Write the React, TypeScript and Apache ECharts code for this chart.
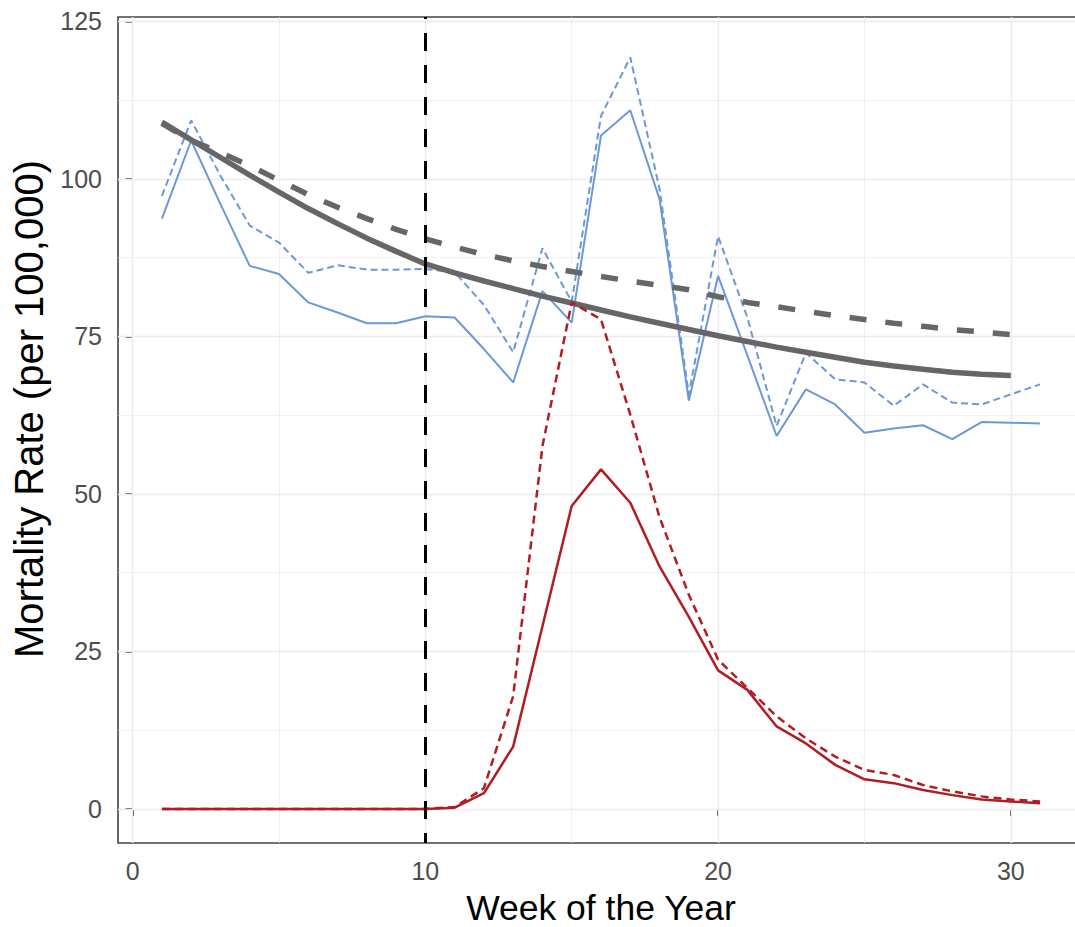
import { useEffect, useRef } from "react";
import * as echarts from "echarts";

// Week of the year
const weeks = [1, 2, 3, 4, 5, 6, 7, 8, 9, 10, 11, 12, 13, 14, 15, 16, 17, 18, 19, 20, 21, 22, 23, 24, 25, 26, 27, 28, 29, 30, 31];

// Blue solid
const blueSolid = [93.7, 106.1, 96.0, 86.2, 84.9, 80.4, 78.8, 77.1, 77.1, 78.2, 78.0, 73.0, 67.7, 82.2, 77.2, 106.9, 110.9, 96.8, 64.8, 84.6, 72.0, 59.2, 66.6, 64.2, 59.7, 60.4, 60.9, 58.7, 61.4, 61.3, 61.2];
// Blue dashed
const blueDashed = [97.3, 109.3, 100.5, 92.6, 89.9, 85.1, 86.3, 85.6, 85.6, 85.7, 85.2, 80.0, 72.5, 89.0, 80.5, 110.0, 119.3, 98.4, 65.8, 90.9, 78.0, 60.8, 72.4, 68.2, 67.7, 64.0, 67.4, 64.5, 64.2, 65.8, 67.4];
// Red solid
const redSolid = [0, 0, 0, 0, 0, 0, 0, 0, 0, 0, 0.2, 2.5, 9.9, 29.0, 48.1, 53.9, 48.6, 38.5, 30.5, 22.0, 18.9, 13.1, 10.4, 7.0, 4.7, 4.1, 3.0, 2.2, 1.5, 1.2, 0.9];
// Red dashed
const redDashed = [0, 0, 0, 0, 0, 0, 0, 0, 0, 0, 0.3, 3.3, 17.9, 57.6, 80.4, 77.7, 62.6, 46.3, 34.0, 23.7, 19.2, 14.7, 11.2, 8.3, 6.2, 5.4, 3.8, 2.8, 2.0, 1.5, 1.2];
// Gray solid trend (weeks 1..30)
const graySolid = [109.0, 106.2, 103.4, 100.6, 97.9, 95.3, 92.9, 90.6, 88.5, 86.5, 85.1, 83.8, 82.6, 81.4, 80.3, 79.2, 78.1, 77.1, 76.1, 75.1, 74.2, 73.3, 72.5, 71.7, 70.9, 70.3, 69.8, 69.3, 69.0, 68.8];
// Gray dashed trend (weeks 1..30)
const grayDashed = [108.8, 106.1, 104.2, 102.1, 99.8, 97.5, 95.5, 93.7, 92.0, 90.5, 89.2, 88.0, 87.0, 86.1, 85.3, 84.5, 83.8, 83.1, 82.4, 81.3, 80.4, 79.7, 79.0, 78.3, 77.7, 77.1, 76.6, 76.1, 75.7, 75.3];

const xTicks = [0, 10, 20, 30];
const xMinorBreaks = [5, 15, 25];
const yTicks = [0, 25, 50, 75, 100, 125];
const yMinorBreaks = [12.5, 37.5, 62.5, 87.5, 112.5];
const interventionWeek = 10;

const xTitle = "Week of the Year";
const yTitle = "Mortality Rate (per 100,000)";

const FONT = "'Liberation Sans', Arial, Helvetica, sans-serif";
const BLUE = "#6D98D8";
const RED = "#B01E23";
const GRAY = "#666666";

const pairs = (vals: number[]) => vals.map((v, i) => [weeks[i], v]);

export default function App() {
  const ref = useRef<HTMLDivElement>(null);
  useEffect(() => {
    if (!ref.current) return;
    const chart = echarts.init(ref.current, undefined, { renderer: "svg" });
    const gridLines: any[] = [
      ...xTicks.map((v) => ({ xAxis: v, lineStyle: { width: 1.4 } })),
      ...xMinorBreaks.map((v) => ({ xAxis: v, lineStyle: { width: 0.7 } })),
      ...yTicks.map((v) => ({ yAxis: v, lineStyle: { width: 1.4 } })),
      ...yMinorBreaks.map((v) => ({ yAxis: v, lineStyle: { width: 0.7 } })),
    ];
    chart.setOption({
      animation: false,
      backgroundColor: "#ffffff",
      grid: {
        left: 118,
        top: 17,
        right: 0,
        bottom: 84,
        show: true,
        borderColor: "#444444",
        borderWidth: 1.6,
        backgroundColor: "transparent",
        containLabel: false,
        outerBoundsMode: "none",
      },
      xAxis: {
        type: "value",
        min: -0.5,
        max: 32.5,
        name: xTitle,
        nameLocation: "middle",
        nameGap: 47,
        nameTextStyle: { fontFamily: FONT, fontSize: 35.5, color: "#000000" },
        axisLine: { show: false },
        splitLine: { show: false },
        axisTick: { show: true, length: 7, customValues: xTicks, lineStyle: { color: "#333333", width: 1.6 } },
        axisLabel: { customValues: xTicks, margin: 15, fontFamily: FONT, fontSize: 25, color: "#4D4D4D" },
      },
      yAxis: {
        type: "value",
        min: -5.4,
        max: 125.7,
        name: yTitle,
        nameLocation: "middle",
        nameGap: 69,
        nameTextStyle: { fontFamily: FONT, fontSize: 40, color: "#000000", padding: [0, 0, 0, 42] },
        axisLine: { show: false },
        splitLine: { show: false },
        axisTick: { show: true, length: 7, customValues: yTicks, lineStyle: { color: "#333333", width: 1.6 } },
        axisLabel: { customValues: yTicks, margin: 16, fontFamily: FONT, fontSize: 25, color: "#4D4D4D" },
      },
      series: [
        {
          type: "line",
          data: [],
          z: 1,
          silent: true,
          markLine: {
            silent: true,
            z: 1,
            symbol: "none",
            label: { show: false },
            lineStyle: { color: "#EBEBEB", type: "solid" },
            data: gridLines,
          },
        },
        {
          type: "line",
          data: pairs(blueDashed),
          showSymbol: false,
          symbol: "none",
          z: 2,
          lineStyle: { color: BLUE, width: 2, type: [7, 4] },
        },
        {
          type: "line",
          data: pairs(blueSolid),
          showSymbol: false,
          symbol: "none",
          z: 2,
          lineStyle: { color: BLUE, width: 2 },
        },
        {
          type: "line",
          data: pairs(graySolid),
          showSymbol: false,
          symbol: "none",
          z: 3,
          lineStyle: { color: GRAY, width: 5.5 },
        },
        {
          type: "line",
          data: pairs(grayDashed),
          showSymbol: false,
          symbol: "none",
          z: 3,
          lineStyle: { color: GRAY, width: 5.5, type: [17, 19] },
        },
        {
          type: "line",
          data: pairs(redDashed),
          showSymbol: false,
          symbol: "none",
          z: 4,
          lineStyle: { color: RED, width: 2.5, type: [8, 5] },
        },
        {
          type: "line",
          data: pairs(redSolid),
          showSymbol: false,
          symbol: "none",
          z: 4,
          lineStyle: { color: RED, width: 2.5 },
        },
        {
          type: "line",
          data: [],
          z: 10,
          silent: true,
          markLine: {
            silent: true,
            z: 10,
            symbol: "none",
            label: { show: false },
            lineStyle: { color: "#000000", width: 3, type: [18, 14], dashOffset: 8 },
            data: [{ xAxis: interventionWeek }],
          },
        },
      ],
    });
    return () => chart.dispose();
  }, []);
  return (
    <div style={{ position: "absolute", left: 0, top: 0, width: 1075, height: 927, overflow: "hidden", background: "#fff" }}>
      <div ref={ref} style={{ width: 1084, height: 927 }} />
    </div>
  );
}
